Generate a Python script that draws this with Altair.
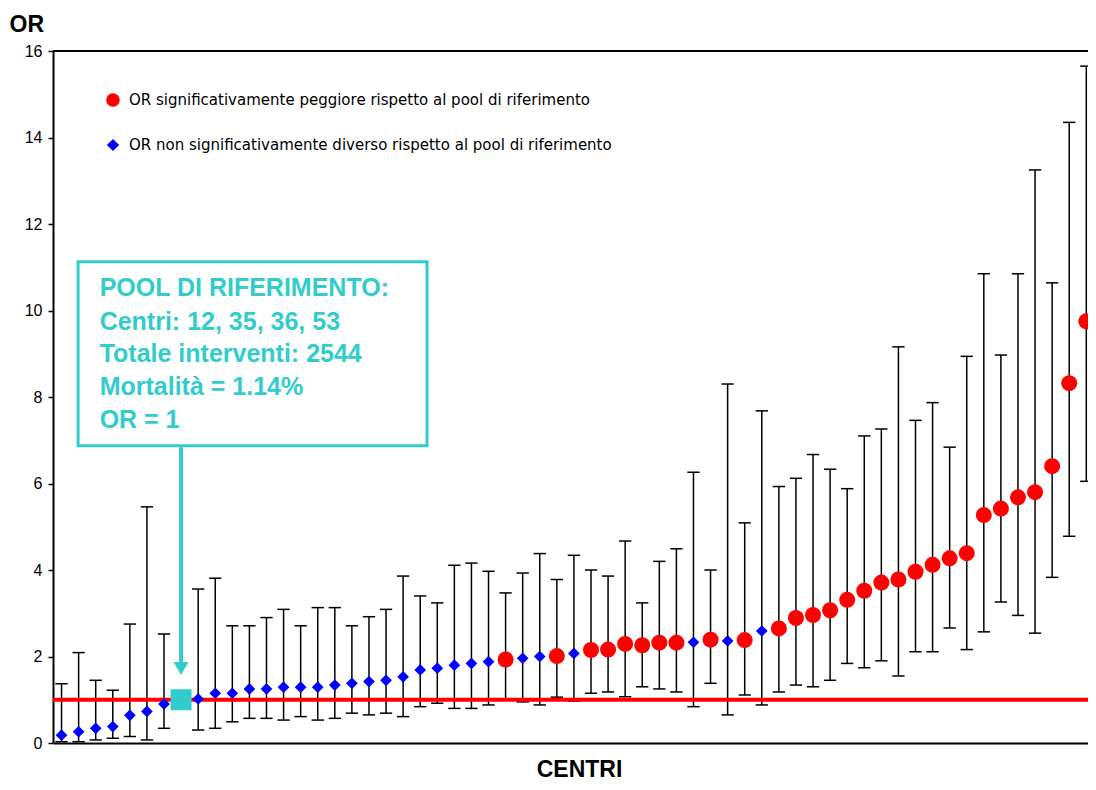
import altair as alt
import pandas as pd

# ---------------- data ----------------
or_values = [0.18, 0.26, 0.34, 0.38, 0.64, 0.73, 0.90,
             1.02, 1.15, 1.15, 1.25, 1.25, 1.29, 1.29, 1.29, 1.34, 1.38, 1.42, 1.45, 1.53,
             1.69, 1.73, 1.80, 1.84, 1.88, 1.93, 1.96, 2.00, 2.01, 2.07, 2.15, 2.16, 2.29,
             2.26, 2.32, 2.32, 2.33, 2.39, 2.36, 2.38, 2.59, 2.65, 2.89, 2.96, 3.07, 3.31,
             3.52, 3.71, 3.78, 3.96, 4.12, 4.27, 4.39, 5.27, 5.42, 5.68, 5.80, 6.40, 8.32, 9.75]
ci_low = [0.03, 0.03, 0.07, 0.11, 0.15, 0.07, 0.34,
          0.30, 0.34, 0.49, 0.57, 0.57, 0.53, 0.61, 0.53, 0.57, 0.69, 0.65, 0.69, 0.61,
          0.84, 0.92, 0.80, 0.80, 0.88, 1.02, 0.95, 0.88, 1.06, 0.97, 1.15, 1.18, 1.07,
          1.30, 1.25, 1.18, 0.84, 1.38, 0.65, 1.11, 0.88, 1.18, 1.34, 1.30, 1.45, 1.84,
          1.74, 1.90, 1.55, 2.11, 2.11, 2.66, 2.16, 2.57, 3.26, 2.95, 2.54, 3.83, 4.78, 6.05]
ci_high = [1.37, 2.09, 1.45, 1.22, 2.75, 5.46, 2.52,
           3.56, 3.81, 2.71, 2.71, 2.90, 3.09, 2.71, 3.13, 3.13, 2.71, 2.92, 3.09, 3.86,
           3.40, 3.24, 4.11, 4.16, 3.97, 3.47, 3.93, 4.38, 3.78, 4.34, 4.00, 3.86, 4.67,
           3.24, 4.20, 4.49, 6.26, 4.00, 8.30, 5.09, 7.68, 5.93, 6.12, 6.67, 6.33, 5.88,
           7.10, 7.26, 9.16, 7.46, 7.87, 6.84, 8.94, 10.85, 8.97, 10.85, 13.25, 10.64, 14.35, 15.65]
significant = [0, 0, 0, 0, 0, 0, 0,
               0, 0, 0, 0, 0, 0, 0, 0, 0, 0, 0, 0, 0,
               0, 0, 0, 0, 0, 1, 0, 0, 1, 0, 1, 1, 1,
               1, 1, 1, 0, 1, 0, 1, 0, 1, 1, 1, 1, 1,
               1, 1, 1, 1, 1, 1, 1, 1, 1, 1, 1, 1, 1, 1]
pool_slot = 7
slots = [i for i in range(len(or_values) + 1) if i != pool_slot]
pool_or = [1]

legend_labels = ["OR significativamente peggiore rispetto al pool di riferimento",
                 "OR non significativamente diverso rispetto al pool di riferimento"]
box_lines = ["POOL DI RIFERIMENTO:", "Centri: 12, 35, 36, 53",
             "Totale interventi: 2544", "Mortalità = 1.14%", "OR = 1"]

# ---------------- layout ----------------
W, H = 1035, 692
RED, BLUE, CYAN = "#FF0000", "#0000FF", "#33CCCC"

df = pd.DataFrame({"slot": slots, "OR": or_values, "lo": ci_low, "hi": ci_high,
                   "sig": significant})

xscale = alt.Scale(domain=[-0.5, 60.1], nice=False, zero=False)
yscale = alt.Scale(domain=[0, 16], nice=False, zero=False)
xaxis = alt.Axis(labels=False, ticks=False, grid=False, title="CENTRI",
                 titleFont="Liberation Sans", titleFontSize=23, titleFontWeight="bold",
                 titleColor="black", titleX=526, titleY=33, titleBaseline="alphabetic",
                 titleAlign="center")
yaxis = alt.Axis(values=list(range(0, 17, 2)), grid=False, title="OR", titleAngle=0,
                 titleFont="Liberation Sans", titleFontSize=23, titleFontWeight="bold",
                 titleColor="black", titleX=-44, titleY=-20, titleAlign="left",
                 titleBaseline="alphabetic", labelFont="Liberation Sans", labelFontSize=16,
                 labelColor="black", labelPadding=6, tickSize=5, tickWidth=1.5,
                 tickColor="black")


def X(field):
    return alt.X(f"{field}:Q", scale=xscale, axis=xaxis)


def Y(field):
    return alt.Y(f"{field}:Q", scale=yscale, axis=yaxis)


base = alt.Chart(df)

whisk = base.mark_rule(color="black", strokeWidth=1.5, clip=True).encode(
    x=X("slot"), y=Y("lo"), y2="hi")
caps_hi = base.transform_calculate(a="datum.slot - 0.36", b="datum.slot + 0.36").mark_rule(
    color="black", strokeWidth=1.5, clip=True).encode(x=X("a"), x2="b", y=Y("hi"))
caps_lo = base.transform_calculate(a="datum.slot - 0.36", b="datum.slot + 0.36").mark_rule(
    color="black", strokeWidth=1.5, clip=True).encode(x=X("a"), x2="b", y=Y("lo"))

ref_line = alt.Chart(pd.DataFrame({"OR": pool_or})).mark_rule(
    color=RED, strokeWidth=4).encode(y=Y("OR"))

red_pts = base.transform_filter("datum.sig == 1").mark_circle(
    size=256, color=RED, opacity=1, clip=True).encode(x=X("slot"), y=Y("OR"))
blue_pts = base.transform_filter("datum.sig == 0").mark_point(
    shape="diamond", filled=True, size=137, color=BLUE, opacity=1, clip=True).encode(
    x=X("slot"), y=Y("OR"))

pool_sq = alt.Chart(pd.DataFrame({"slot": [pool_slot], "OR": pool_or})).mark_square(
    size=441, color=CYAN, opacity=1).encode(x=X("slot"), y=Y("OR"))

# annotation box, arrow
box = alt.Chart(pd.DataFrame({"x1": [0.97], "x2": [21.4], "y1": [11.13], "y2": [6.87]})).mark_rect(
    fill="white", stroke=CYAN, strokeWidth=3).encode(x=X("x1"), x2="x2", y=Y("y1"), y2="y2")
box_text = alt.Chart(pd.DataFrame({"line": box_lines, "x": [2.23] * 5,
                                   "y": [10.51, 9.74, 8.99, 8.24, 7.47]})).mark_text(
    align="left", baseline="middle", font="Liberation Sans", fontSize=25,
    fontWeight="bold", color=CYAN).encode(x=X("x"), y=Y("y"), text="line:N")
arrow = alt.Chart(pd.DataFrame({"slot": [pool_slot], "a": [6.84], "b": [1.87]})).mark_rule(
    color=CYAN, strokeWidth=4).encode(x=X("slot"), y=Y("a"), y2="b")
arrow_head = alt.Chart(pd.DataFrame({"slot": [pool_slot], "OR": [1.72]})).mark_point(
    shape="triangle-down", filled=True, size=225, color=CYAN, opacity=1).encode(
    x=X("slot"), y=Y("OR"))

# legend (hand-drawn, inside the plot)
leg_red = alt.Chart(pd.DataFrame({"t": [legend_labels[0]]})).mark_circle(
    size=185, color=RED, opacity=1).encode(x=alt.value(60), y=alt.value(49))
leg_blue = alt.Chart(pd.DataFrame({"t": [legend_labels[1]]})).mark_point(
    shape="diamond", filled=True, size=150, color=BLUE, opacity=1).encode(
    x=alt.value(60), y=alt.value(94))
leg_t1 = alt.Chart(pd.DataFrame({"t": [legend_labels[0]]})).mark_text(
    align="left", baseline="middle", font="DejaVu Sans", fontSize=15, color="black").encode(
    x=alt.value(76), y=alt.value(49), text="t:N")
leg_t2 = alt.Chart(pd.DataFrame({"t": [legend_labels[1]]})).mark_text(
    align="left", baseline="middle", font="DejaVu Sans", fontSize=15, color="black").encode(
    x=alt.value(76), y=alt.value(94), text="t:N")

top_border = alt.Chart(pd.DataFrame({"t": [0]})).mark_rule(color="black", strokeWidth=2).encode(
    x=alt.value(0), x2=alt.value(W), y=alt.value(0))

chart = alt.layer(
    whisk, caps_hi, caps_lo, ref_line, blue_pts, red_pts, pool_sq,
    box, box_text, arrow, arrow_head, leg_red, leg_blue, leg_t1, leg_t2, top_border
).properties(
    width=W, height=H,
    autosize=alt.AutoSizeParams(type="none"),
    padding={"left": 45, "top": 43, "right": 0, "bottom": 38},
    background="white",
).configure_view(stroke=None).configure_axis(
    domainColor="black", domainWidth=2
)

chart.save("out.html", embed_options={"renderer": "svg", "actions": False})
